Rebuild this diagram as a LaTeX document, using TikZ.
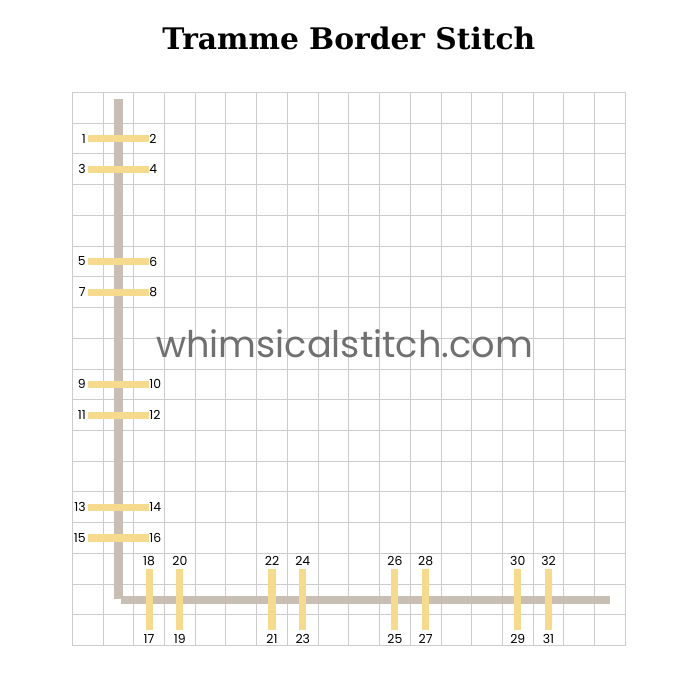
\documentclass[tikz,border=0pt]{standalone}
\usepackage{fontspec}
\setmainfont{DejaVu Serif}
\newfontfamily\numfont{Poppins}
\newfontfamily\headfont{DejaVu Serif}
\definecolor{gridgray}{HTML}{CCCCCC}
\definecolor{tramme}{HTML}{C9BEB3}
\definecolor{wool}{HTML}{F6DA8E}
\definecolor{markgray}{HTML}{707070}

\begin{document}
\begin{tikzpicture}[x=1cm, y=1cm,
  canvas/.style={draw=gridgray, line width=0.8pt},
  trammebar/.style={draw=tramme, line width=0.3cm},
  stitchbar/.style={draw=wool, line width=0.23cm},
  hole/.style={font=\numfont\fontsize{11.5}{13}\selectfont, inner sep=1pt}]
  \useasboundingbox (-2.353,-1.767) rectangle (20.43,21.01);
  \node[anchor=base, font=\headfont\bfseries\fontsize{27.5}{32}\selectfont] (title) at (9,19.41) {Tramme Border Stitch};
  % canvas
  \draw[canvas] (0,0) grid (18,18);
  \node[anchor=base, text=markgray, font=\numfont\fontsize{34}{40}\selectfont] (mark) at (8.86,9.39) {whimsicalstitch.com};
  % laid thread
  \coordinate (tTop) at (1.5,17.8);
  \coordinate (tCorner) at (1.5,1.5);
  \coordinate (tStart) at (1.57,1.47);
  \coordinate (tEnd) at (17.5,1.47);
  \draw[trammebar] (tTop) -- (tCorner);
  \draw[trammebar, line width=0.26cm] (tStart) -- (tEnd);
  % stitches over the left side
  \foreach \y/\a/\b in {16.5/1/2, 15.5/3/4, 12.5/5/6, 11.5/7/8, 8.5/9/10, 7.5/11/12, 4.5/13/14, 3.5/15/16} {
    \coordinate (p\a) at (0.5,\y);
    \coordinate (p\b) at (2.5,\y);
    \draw[stitchbar] (p\a) -- (p\b);
    \node[hole, anchor=east] (n\a) at (0.48,\y) {\a};
    \node[hole, anchor=west] (n\b) at (2.47,\y) {\b};
  }
  % stitches over the bottom
  \foreach \x/\a/\b in {2.5/17/18, 3.5/19/20, 6.5/21/22, 7.5/23/24, 10.5/25/26, 11.5/27/28, 14.5/29/30, 15.5/31/32} {
    \coordinate (p\a) at (\x,0.5);
    \coordinate (p\b) at (\x,2.5);
    \draw[stitchbar] (p\a) -- (p\b);
    \node[hole] (n\a) at (\x,0.21) {\a};
    \node[hole] (n\b) at (\x,2.76) {\b};
  }
\end{tikzpicture}
\end{document}
